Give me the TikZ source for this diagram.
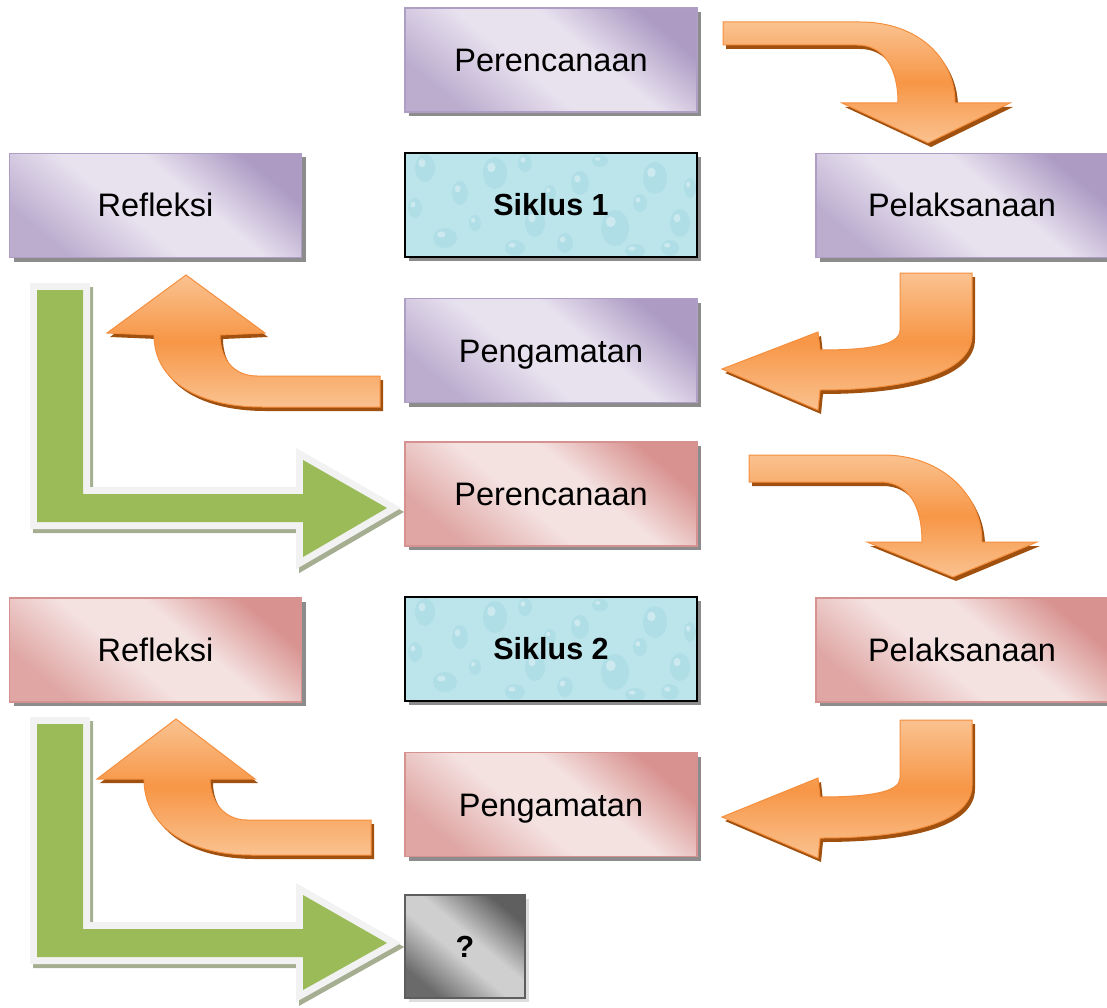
\documentclass[tikz,border=0pt]{standalone}
\usepackage{fontspec}
\setmainfont{Liberation Sans}
\usetikzlibrary{shadows}
\definecolor{pdark}{HTML}{AD9BC4}
\definecolor{plight}{HTML}{E8E2EF}
\definecolor{pedge}{HTML}{AE9DC5}
\definecolor{rdark}{HTML}{D8928F}
\definecolor{rlight}{HTML}{F4E2E1}
\definecolor{redge}{HTML}{D69290}
\definecolor{shgray}{HTML}{8C8C8C}
\definecolor{olight}{HTML}{FAC290}
\definecolor{omid}{HTML}{F79646}
\definecolor{oedge}{HTML}{F58F3E}
\definecolor{obrown}{HTML}{A0510F}
\definecolor{ggreen}{HTML}{9BBB59}
\definecolor{gborder}{HTML}{F2F2F2}
\definecolor{gshadow}{HTML}{A6AE92}
\definecolor{water}{HTML}{BCE5EB}
\definecolor{waterdark}{HTML}{9CD3DD}
\definecolor{qdark}{HTML}{6A6A6A}
\definecolor{qlight}{HTML}{CFCFCF}
\definecolor{qedge}{HTML}{5E5E5E}
\pgfdeclareverticalshading{pshade}{100bp}{color(0bp)=(pdark!75!plight); color(25bp)=(pdark!75!plight); color(44bp)=(plight); color(58bp)=(plight); color(75bp)=(pdark); color(100bp)=(pdark)}
\pgfdeclareverticalshading{rshade}{100bp}{color(0bp)=(rdark!75!rlight); color(25bp)=(rdark!75!rlight); color(44bp)=(rlight); color(58bp)=(rlight); color(75bp)=(rdark); color(100bp)=(rdark)}
\pgfdeclareverticalshading{qshade}{100bp}{color(0bp)=(qdark); color(25bp)=(qdark); color(45bp)=(qlight); color(55bp)=(qlight); color(75bp)=(qdark!90!black); color(100bp)=(qdark!90!black)}
\tikzset{
  box/.style={minimum width=292pt, minimum height=104pt, inner sep=0pt,
    text height=23pt, text depth=0pt, font=\fontsize{32.5}{36}\selectfont,
    line width=1.2pt,
    drop shadow={shadow xshift=4pt, shadow yshift=-4pt, fill=shgray, opacity=1}},
  pbox/.style={box, draw=pedge, shading=pshade, shading angle=-40},
  rbox/.style={box, draw=redge, shading=rshade, shading angle=-40},
  sbox/.style={box, draw=black, line width=1.6pt, fill=water, text height=21pt,
    font=\fontsize{30.5}{34}\selectfont\bfseries,
    path picture={
      \foreach \px/\py/\ra/\rb in {20/15/10/14,55/40/8/12,90/20/12/16,130/70/10/14,175/30/9/12,
        210/75/14/18,250/25/12/16,275/70/10/14,40/85/12/10,110/95/10/8,160/90/8/10,235/50/7/9,
        70/70/6/8,195/8/8/6,265/95/9/8,10/55/7/10,145/40/6/8,285/35/6/10,120/10/7/9,230/98/10/7}{
        \fill[waterdark,opacity=.35] ([shift={(\px,\py)}]path picture bounding box.north west) ellipse ({\ra} and {\rb});
        \fill[white,opacity=.35] ([shift={(\px-.3*\ra,\py-.35*\rb)}]path picture bounding box.north west) ellipse ({.35*\ra} and {.3*\rb});
      }
    }},
  qbox/.style={box, minimum width=120pt, minimum height=103pt, draw=qedge, line width=1.5pt,
    shading=qshade, shading angle=-40,
    font=\fontsize{30.5}{34}\selectfont\bfseries, text height=21pt,
    drop shadow={shadow xshift=4pt, shadow yshift=-4pt, fill=qlight!70!white, opacity=1}},
  orarrow/.style={top color=olight, bottom color=olight, middle color=omid, draw=oedge, line width=1pt, line join=miter},
  orshadow/.style={fill=obrown, shift={(3,4)}},
  grborder/.style={draw=gborder, line width=14pt, line join=miter, miter limit=10},
  grfill/.style={fill=ggreen},
  grshadow/.style={fill=gshadow, draw=gshadow, line width=14pt, line join=miter, miter limit=10, shift={(3,4)}}
}
\def\arrA{(723,22) -- (860,22) .. controls (918,22) and (955,58) .. (955,103) -- (1010,103) -- (928,143) -- (842,103) -- (898,103) .. controls (898,68) and (884,45) .. (857,45) -- (723,45) -- cycle}
\def\arrD{(749,455) -- (883,455) .. controls (942,455) and (982,495) .. (982,542) -- (1037,542) -- (953,577) -- (867,542) -- (922,542) .. controls (922,505) and (908,482) .. (880,482) -- (749,482) -- cycle}
\def\arrB{(900,273) -- (972,273) -- (972,335) .. controls (972,372) and (910,390) .. (820,390) -- (818,410) -- (722,369) -- (818,332) -- (820,350) .. controls (870,350) and (900,345) .. (900,330) -- cycle}
\def\arrF{(900,720) -- (972,720) -- (972,785) .. controls (972,822) and (910,838) .. (820,838) -- (818,858) -- (722,817) -- (818,778) -- (820,797) .. controls (870,797) and (900,792) .. (900,778) -- cycle}
\def\arrC{(380,376) -- (257,376) .. controls (233,376) and (220,358) .. (220,335) -- (265,333) -- (186,275) -- (107,333) -- (154,335) .. controls (154,382) and (200,407) .. (262,407) -- (380,407) -- cycle}
\def\arrE{(371,820) -- (247,820) .. controls (223,820) and (210,800) .. (210,779) -- (255,779) -- (176,719) -- (97,779) -- (144,779) .. controls (144,828) and (190,855) .. (252,855) -- (371,855) -- cycle}
\def\grA{(37,290) -- (83,290) -- (83,494) -- (303,494) -- (303,460) -- (387,508) -- (303,557) -- (303,522) -- (37,522) -- cycle}
\def\grB{(37,724) -- (83,724) -- (83,929) -- (303,929) -- (303,895) -- (387,943) -- (303,990) -- (303,957) -- (37,957) -- cycle}
\begin{document}
\begin{tikzpicture}[x=1pt,y=-1pt]
\useasboundingbox (0,0) rectangle (1107,1008);
% green arrows
\foreach \gr in {\grA,\grB}{
  \path[grshadow] \gr;
  \path[grborder] \gr;
  \path[grfill] \gr;
}
% orange arrows
\foreach \ar in {\arrA,\arrB,\arrC,\arrD,\arrE,\arrF}{
  \fill[orshadow] \ar;
  \path[orarrow] \ar;
}
% boxes
\node[pbox] (per1) at (551,60) {Perencanaan};
\node[pbox] (ref1) at (155.5,205.5) {Refleksi};
\node[sbox] (s1) at (551,205) {Siklus 1};
\node[pbox] (pel1) at (962,205.5) {Pelaksanaan};
\node[pbox] (pen1) at (551,350.5) {Pengamatan};
\node[rbox] (per2) at (551,494) {Perencanaan};
\node[rbox] (ref2) at (155.5,650) {Refleksi};
\node[sbox] (s2) at (551,649) {Siklus 2};
\node[rbox] (pel2) at (962,650) {Pelaksanaan};
\node[rbox] (pen2) at (551,804.5) {Pengamatan};
\node[qbox] (q) at (465,946.5) {?};
\end{tikzpicture}
\end{document}
